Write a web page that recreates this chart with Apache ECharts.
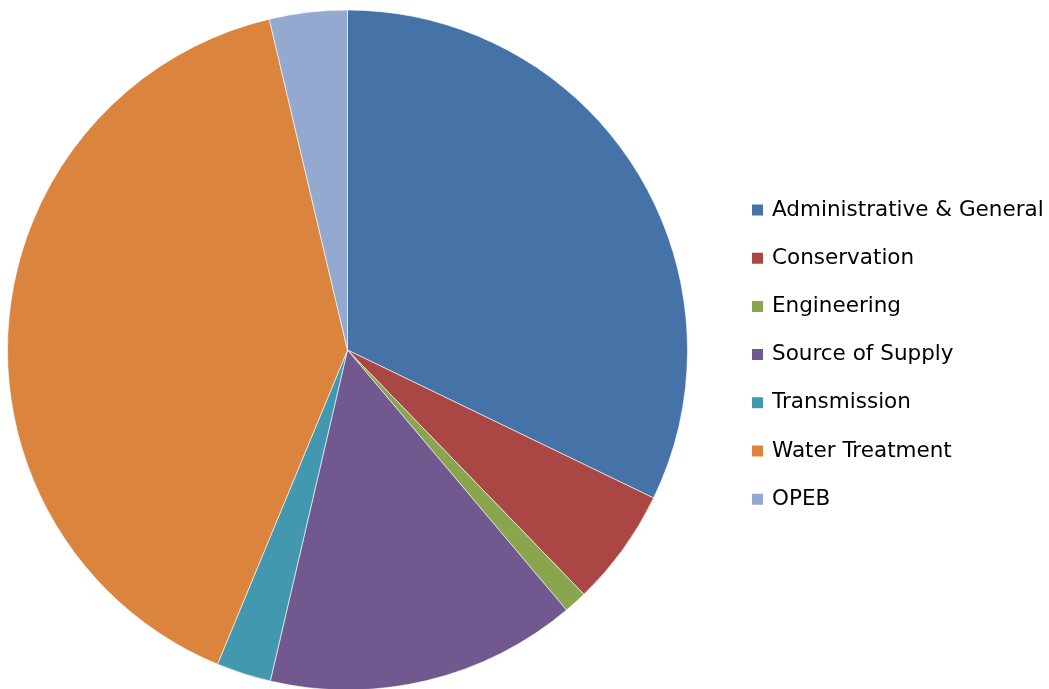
<!DOCTYPE html>
<html>
<head>
<meta charset="utf-8">
<script src="https://cdn.jsdelivr.net/npm/echarts@6/dist/echarts.min.js"></script>
<style>
  html, body { margin: 0; padding: 0; background: #fff; }
  #main { width: 1049px; height: 689px; }
</style>
</head>
<body>
<div id="main"></div>
<script>
// slice data (percent of total)
var categories = ['Administrative & General', 'Conservation', 'Engineering', 'Source of Supply', 'Transmission', 'Water Treatment', 'OPEB'];
var values = [32.2, 5.6, 1.1, 14.8, 2.6, 40.1, 3.7];
var colors = ['#4572A7', '#AA4643', '#89A54E', '#71588F', '#4198AF', '#DB843D', '#93A9CF'];

var chart = echarts.init(document.getElementById('main'));

var option = {
  animation: false,
  color: colors,
  legend: {
    orient: 'vertical',
    left: 750,
    top: 199,
    padding: 0,
    itemWidth: 13,
    itemHeight: 13,
    itemGap: 26.2,
    icon: 'rect',
    textStyle: {
      fontFamily: 'DejaVu Sans',
      fontSize: 21.5,
      lineHeight: 20,
      padding: [0, 0, 0, 3],
      color: '#000'
    },
    data: categories
  },
  series: [
    {
      type: 'pie',
      center: [347.5, 350],
      radius: [0, 340],
      startAngle: 90,
      clockwise: true,
      label: { show: false },
      labelLine: { show: false },
      itemStyle: {
        borderColor: '#fff',
        borderWidth: 0.6
      },
      emphasis: { disabled: true },
      data: categories.map(function (c, i) {
        return { name: c, value: values[i] };
      })
    }
  ]
};

chart.setOption(option);
</script>
</body>
</html>
